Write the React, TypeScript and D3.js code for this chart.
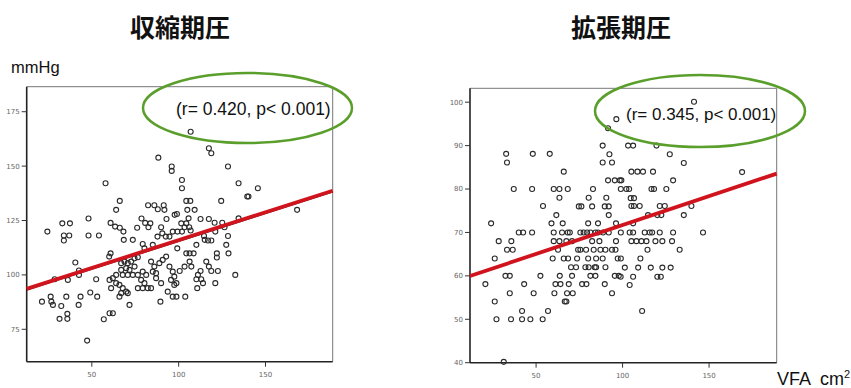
import React, { useEffect } from 'react';
import * as d3 from 'd3';

const W = 851;
const H = 388;

// Systolic pressure (mmHg) against visceral fat area (VFA, cm²)
const sbpPoints: [number, number][] = [
  [88.3, 153.9], [96, 149.8], [96, 147.8], [57.9, 142.1], [66.1, 134], [64, 129.9],
  [82.4, 132], [86, 132], [88, 130.2], [91.4, 132], [91.8, 129.9],
  [93, 125.7], [97.7, 127.6], [48.1, 125.9], [33, 123.7], [37.4, 123.7],
  [60.8, 123.9], [63.4, 122.2], [66.1, 121.7], [68.2, 119.9],
  [78.6, 125.9], [80.7, 123.9], [83.7, 123.7], [82.6, 121.9], [76.1, 121.7],
  [24.4, 119.9], [33.9, 118.1], [37, 118.1], [33.9, 115.8], [48.1, 118.1], [54.1, 118.1],
  [68.4, 116.1], [73.6, 116.1],
  [89.9, 121.9], [90.6, 119.1], [87.8, 117.6], [92.6, 117.6], [94.7, 117.6], [96.6, 119.9],
  [80.3, 112.2], [85.1, 113.8], [79.3, 114.2], [60, 108.4], [60.8, 109.9],
  [40.5, 105.7], [42.6, 102], [42.6, 100], [36.2, 97.7], [28.6, 98],
  [64, 100], [66.9, 105.4], [68.8, 106.1], [70.7, 105.4], [72.6, 106.1], [74.6, 107.6],
  [76.5, 108.1], [66.9, 102.3], [69.8, 103.1], [71.7, 102.3], [74.6, 103.8], [67.8, 100],
  [70.7, 100], [73.6, 100], [76.5, 100], [79.3, 101.5], [81.3, 100], [78.4, 97.7],
  [80.3, 96.2], [84.1, 106.1], [86, 103.8], [85.1, 101.5], [87, 100.8], [88.9, 105.4],
  [90.8, 106.9], [92.8, 108.4], [94.7, 103.8], [96.6, 101.5], [97.5, 99.2], [82.2, 93.9],
  [76.5, 93.9], [79.3, 93.9], [84.1, 93.9], [60.2, 97.7], [62.1, 98.5],
  [64, 96.2], [65.9, 95.4], [67.8, 93.9], [69.8, 92.3], [65.9, 90], [66.9, 91.6],
  [70.7, 91.6], [71.7, 86.2], [61.1, 93.9], [60.2, 82.4], [56.9, 79.6], [62.1, 82.4],
  [52.5, 98], [53.1, 90], [49.1, 91.9], [43.5, 90], [42.4, 86.2], [35.3, 90],
  [32.4, 85.7], [27.6, 86.2], [26.3, 90], [26.7, 87.7], [21.3, 87.7], [31.4, 79.8],
  [35.9, 79.8], [35.9, 82.1], [47.3, 69.8],
  [89.5, 87.7], [93.7, 92.3], [96.6, 90], [97.5, 95.4], [95.6, 97.7], [89.9, 96.2], [87, 98.5],
  [106.9, 165.8], [117.4, 158.2], [118.8, 155.9], [128.4, 149.8], [101.9, 143.6], [101.9, 139.8],
  [134.5, 142.1], [145.6, 139.8], [139.5, 136], [140.2, 136], [124.5, 134], [104.4, 134],
  [106.7, 134], [105, 129.9], [109.2, 129.9], [168.2, 129.9], [105.7, 126], [112.6, 125.7],
  [117.4, 125.7], [101.5, 123.7], [104.4, 123.7], [106.1, 121.9], [103.4, 121.9], [101.9, 119.9],
  [106.9, 120.4], [99, 128], [99.3, 119.9], [120.7, 124], [125.1, 124], [126.4, 121.9],
  [121.1, 119.9], [134.5, 126], [114.6, 117.9], [128.4, 117.9], [115, 116.1], [116.9, 115.8],
  [118.8, 115.8], [99.2, 112.2], [110.2, 113.8], [127.4, 113.8], [128.7, 109.9], [104.4, 109.9],
  [106.3, 109.9], [108.6, 109.9], [122, 109.9], [122, 108], [106.3, 106.1], [103.4, 103.8],
  [107.3, 103.8], [115.9, 106.1], [117.4, 103.8], [118.8, 101.8], [122.6, 101.8], [100.6, 101.8],
  [112.6, 101.8], [111.1, 100], [113, 98], [110.2, 98], [114, 96.2], [110.7, 93.9],
  [121.1, 96.2], [132.6, 100], [98.7, 96.2], [98.7, 90], [103.8, 90],
];

// Diastolic pressure (mmHg) against visceral fat area (VFA, cm²)
const dbpPoints: [number, number][] = [
  [96.4, 96.1], [91.6, 94], [88.5, 90], [92.4, 88], [88.5, 86.1], [93.9, 86.1],
  [32.7, 88.1], [33.2, 86.1], [48.1, 88.1], [57.9, 88.1], [66, 84],
  [37.1, 80], [47.7, 80], [60.2, 80], [63.5, 80], [68.3, 80], [63.5, 78],
  [91.6, 82], [95.5, 82], [98.4, 82], [82.9, 80], [80.4, 78], [90.6, 78],
  [54, 76.1], [74.7, 76], [76.2, 76], [82.4, 76], [89.7, 76], [92, 76],
  [61.7, 74], [92, 74], [24, 72.1], [58.9, 72.1], [65.4, 72.1], [80.1, 72.1], [85.8, 72.1], [96.2, 72.1],
  [40, 70], [42.5, 70], [47.7, 70], [60.2, 70], [65, 70], [68.3, 70], [69.5, 70], [75.6, 70],
  [77.5, 70], [79.5, 70], [81.4, 70], [84.3, 70], [85.8, 70], [88.7, 70], [92, 70],
  [28.4, 68], [35.7, 68], [60.2, 68], [63.5, 68], [67.5, 68], [70.8, 68], [82.4, 68], [86.6, 68], [96.2, 68],
  [33.2, 66], [36.5, 66], [62.7, 66], [74.3, 66], [75.6, 66], [78.9, 66], [83.3, 66], [87.2, 66],
  [90.1, 66], [93.9, 66], [95.9, 66],
  [26.1, 64], [59.6, 64], [66, 64], [68.5, 64], [73.7, 64], [80.1, 64], [84.7, 64], [88.5, 64], [97.2, 64],
  [70.2, 62], [73.1, 62], [78.5, 62], [80.4, 62], [83.9, 62], [84.7, 62], [90.1, 62],
  [32.3, 60], [34.8, 60], [52.5, 60], [63.7, 60], [70.8, 60], [81.4, 60], [84.3, 60], [95.5, 60], [97.8, 60],
  [20.7, 58.1], [43.1, 58.1], [61.2, 58.1], [64.1, 58.1], [68.9, 58.1], [76.6, 58.1], [79.1, 58.1], [89.7, 58.1],
  [34.8, 56], [48.6, 56], [60.6, 56], [67.9, 56], [71.2, 56], [93.9, 56],
  [26.1, 54.1], [66.6, 54.1], [67.5, 54.1], [41.9, 51.9], [56.9, 51.9],
  [27.1, 50], [35.5, 50], [41.9, 50], [46.7, 50], [53.8, 50], [31.3, 40.2],
  [141.3, 100.1], [103.2, 90], [106.1, 90], [119.6, 90], [127.3, 88], [135.4, 86],
  [105.1, 84], [108.6, 84], [111.8, 84], [117.6, 84], [169.1, 83.9], [99.3, 82], [129.2, 82],
  [99, 80], [102.2, 80], [103.8, 80], [116.7, 80], [118.2, 80], [125.3, 80],
  [104.7, 77.9], [106.6, 77.9], [105.1, 76.1], [106.6, 76.1], [109.9, 76.1], [121.5, 76.1],
  [124.4, 76.1], [139.8, 76.1], [114.7, 74], [120.1, 74], [122.4, 74], [135.4, 74], [106.1, 72.1],
  [99, 70], [104.1, 70], [106.1, 70], [112.8, 70], [115.7, 70], [117.1, 70], [121.5, 70], [129.2, 70], [146.5, 70],
  [105.1, 68], [108, 68], [110.9, 68], [113.8, 68], [119, 68], [123, 68], [128.6, 68],
  [114.4, 66], [133, 66], [99, 64], [110.3, 64],
  [101.3, 61.9], [109, 61.9], [116.3, 61.9], [123, 61.9], [127.8, 61.9],
  [98.9, 59.8], [106.1, 59.8], [120.1, 59.8], [122.1, 59.8], [104.1, 57.9], [111.3, 51.9],
];

// Fitted regression lines (mmHg = intercept + slope * VFA)
const sbpFit = { intercept: 89.9, slope: 0.256 };
const dbpFit = { intercept: 58.4, slope: 0.133 };

const sbpTicks = [75, 100, 125, 150, 175];
const dbpTicks = [40, 50, 60, 70, 80, 90, 100];
const vfaTicks = [50, 100, 150];

const titles = ['収縮期圧', '拡張期圧'];
const stats = ['(r= 0.420, p< 0.001)', '(r= 0.345, p< 0.001)'];

type Box = { left: number; right: number; top: number; bottom: number };
type PanelProps = {
  box: Box;
  xDomain: [number, number];
  yDomain: [number, number];
  points: [number, number][];
  fit: { intercept: number; slope: number };
  yTicks: number[];
  title: string;
  titleX: number;
  stat: string;
  statX: number;
  statY: number;
  statSize: number;
  ellipse: { cx: number; cy: number; rx: number; ry: number };
  darkEdge: boolean;
};

const tickFont = "'DejaVu Sans', sans-serif";

function Panel(p: PanelProps) {
  const x = d3.scaleLinear().domain(p.xDomain).range([p.box.left, p.box.right]);
  const y = d3.scaleLinear().domain(p.yDomain).range([p.box.bottom, p.box.top]);
  const line = d3
    .line<number>()
    .x((v) => x(v))
    .y((v) => y(p.fit.intercept + p.fit.slope * v));
  const fitPath = line(p.xDomain) || '';
  return (
    <g>
      <text
        x={p.titleX}
        y={37}
        textAnchor="middle"
        fontFamily="'Noto Sans CJK JP', sans-serif"
        fontWeight={700}
        fontSize={25}
        fill="#111"
      >
        {p.title}
      </text>
      {/* frame */}
      <line x1={p.box.left} x2={p.box.right} y1={p.box.top} y2={p.box.top} stroke="#777" strokeWidth={1} />
      <line x1={p.box.right} x2={p.box.right} y1={p.box.top} y2={p.box.bottom} stroke="#777" strokeWidth={1} />
      <line x1={p.box.left} x2={p.box.left} y1={p.box.top} y2={p.box.bottom} stroke="#222" strokeWidth={1.6} />
      <line x1={p.box.left} x2={p.box.right} y1={p.box.bottom} y2={p.box.bottom} stroke="#222" strokeWidth={1.6} />
      {/* y axis */}
      {p.yTicks.map((t) => (
        <g key={'y' + t}>
          <line x1={p.box.left - 5} x2={p.box.left} y1={y(t)} y2={y(t)} stroke="#333" strokeWidth={1} />
          <text
            x={p.box.left - 7}
            y={y(t)}
            dy="0.35em"
            textAnchor="end"
            fontFamily={tickFont}
            fontSize={7}
            fill="#666"
          >
            {t}
          </text>
        </g>
      ))}
      {/* x axis */}
      {vfaTicks.map((t) => (
        <g key={'x' + t}>
          <line x1={x(t)} x2={x(t)} y1={p.box.bottom} y2={p.box.bottom + 5} stroke="#333" strokeWidth={1} />
          <text
            x={x(t)}
            y={p.box.bottom + 15}
            textAnchor="middle"
            fontFamily={tickFont}
            fontSize={7}
            fill="#666"
          >
            {t}
          </text>
        </g>
      ))}
      {/* observations */}
      {p.points.map(([vx, vy], i) => (
        <circle key={i} cx={x(vx)} cy={y(vy)} r={2.5} fill="none" stroke="#2a2a2a" strokeWidth={1.1} />
      ))}
      {/* regression line */}
      {p.darkEdge && <path d={fitPath} stroke="#222" strokeWidth={1.5} fill="none" />}
      <path
        d={fitPath}
        stroke="#d0141e"
        strokeWidth={3.8}
        fill="none"
        transform={p.darkEdge ? 'translate(0,-1)' : undefined}
      />
      {/* correlation annotation */}
      <ellipse
        cx={p.ellipse.cx}
        cy={p.ellipse.cy}
        rx={p.ellipse.rx}
        ry={p.ellipse.ry}
        fill="none"
        stroke="#5a9e2c"
        strokeWidth={2.5}
      />
      <text
        x={p.statX}
        y={p.statY}
        fontFamily="'Liberation Sans', Arial, sans-serif"
        fontSize={p.statSize}
        fill="#111"
      >
        {p.stat}
      </text>
    </g>
  );
}

export default function App() {
  useEffect(() => {
    document.body.style.margin = '0';
  }, []);
  return (
    <svg
      width={W}
      height={H}
      viewBox={`0 0 ${W} ${H}`}
      style={{ position: 'absolute', left: 0, top: 0, background: '#fff' }}
    >
      <rect width={W} height={H} fill="#fff" />
      <text x={11} y={73} fontFamily="'Liberation Sans', Arial, sans-serif" fontSize={16.5} fill="#111">
        mmHg
      </text>
      <Panel
        box={{ left: 26.7, right: 332.7, top: 86.7, bottom: 361.7 }}
        xDomain={[12.5, 188.7]}
        yDomain={[60.1, 186.5]}
        points={sbpPoints}
        fit={sbpFit}
        yTicks={sbpTicks}
        title={titles[0]}
        titleX={180}
        stat={stats[0]}
        statX={176}
        statY={115}
        statSize={17.5}
        ellipse={{ cx: 247.5, cy: 108, rx: 104.5, ry: 35 }}
        darkEdge={true}
      />
      <Panel
        box={{ left: 470, right: 776.7, top: 88.3, bottom: 362.7 }}
        xDomain={[11.8, 189.1]}
        yDomain={[40, 103.2]}
        points={dbpPoints}
        fit={dbpFit}
        yTicks={dbpTicks}
        title={titles[1]}
        titleX={621}
        stat={stats[1]}
        statX={626}
        statY={120}
        statSize={17}
        ellipse={{ cx: 700, cy: 111, rx: 105, ry: 36 }}
        darkEdge={false}
      />
      <text x={777} y={385} fontFamily="'Liberation Sans', Arial, sans-serif" fontSize={18} fill="#111">
        VFA
        <tspan dx={9}>cm</tspan>
        <tspan dy={-7} fontSize={11}>
          2
        </tspan>
      </text>
    </svg>
  );
}
